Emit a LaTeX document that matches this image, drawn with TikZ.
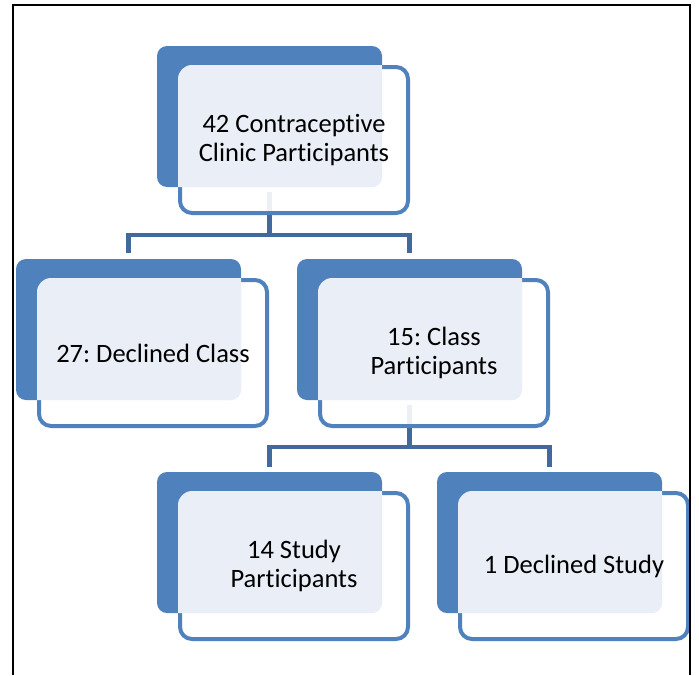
\documentclass[tikz,border=0pt]{standalone}
\usepackage{fontspec}
\setmainfont{Carlito}[RawFeature={-liga;-clig;-dlig}]
\definecolor{bblue}{RGB}{79,129,189}
\definecolor{cblue}{RGB}{65,105,156}
\definecolor{lightov}{RGB}{234,239,247}
\pgfdeclarelayer{bg}
\pgfsetlayers{bg,main}
\tikzset{
  backbox/.style={rectangle, fill=bblue, rounded corners=10pt, minimum width=225pt, minimum height=141pt, inner sep=0pt, outer sep=0pt},
  frontbox/.style={rectangle, draw=bblue, line width=4pt, fill=white, fill opacity=0.9, rounded corners=12pt, minimum width=228pt, minimum height=146pt, inner sep=0pt, outer sep=0pt},
  boxtext/.style={align=center, font=\fontsize{26.5}{29}\selectfont\frenchspacing, text=black, inner sep=0pt},
  conn/.style={draw=cblue, line width=4.5pt, line join=miter},
  frameline/.style={draw=black, line width=1.5pt}
}
\newcommand\orgbox[4]{%
  \node[backbox] (#1b) at (#2+112.5,#3+70.5) {};
  \node[frontbox] (#1f) at (#2+137,#3+94) {};
  \begin{scope}
    \clip[rounded corners=14pt] (#2+21,#3+19) rectangle (#2+253,#3+169);
    \fill[lightov, rounded corners=10pt] (#2,#3) rectangle (#2+225,#3+141);
  \end{scope}
  \node[boxtext] (#1) at (#1f.center) {#4};
}
\begin{document}
\frenchspacing
\begin{tikzpicture}[x=1pt,y=-1pt]
\useasboundingbox (0,0) rectangle (699,675);
\orgbox{top}{157}{46}{42 Contraceptive\\Clinic Participants}
\orgbox{decl}{16}{259}{27: Declined Class}
\orgbox{class}{297}{259}{15: Class\\Participants}
\orgbox{study}{157}{472}{14 Study\\Participants}
\orgbox{dstudy}{437}{472}{1 Declined Study}
\begin{pgfonlayer}{bg}
  \draw[conn] ([yshift=-5pt]topb.south) -- ++(0,43) coordinate (j1);
  \draw[conn] ([yshift=6pt]declb.north) |- (j1) -| ([yshift=6pt]classb.north);
  \draw[conn] ([yshift=-5pt]classb.south) -- ++(0,42) coordinate (j2);
  \draw[conn] ([yshift=5pt]studyb.north) |- (j2) -| ([yshift=5pt]dstudyb.north);
\end{pgfonlayer}
\draw[frameline] (13,675) -- (13,5) -- (690,5) -- (690,675);
\end{tikzpicture}
\end{document}
